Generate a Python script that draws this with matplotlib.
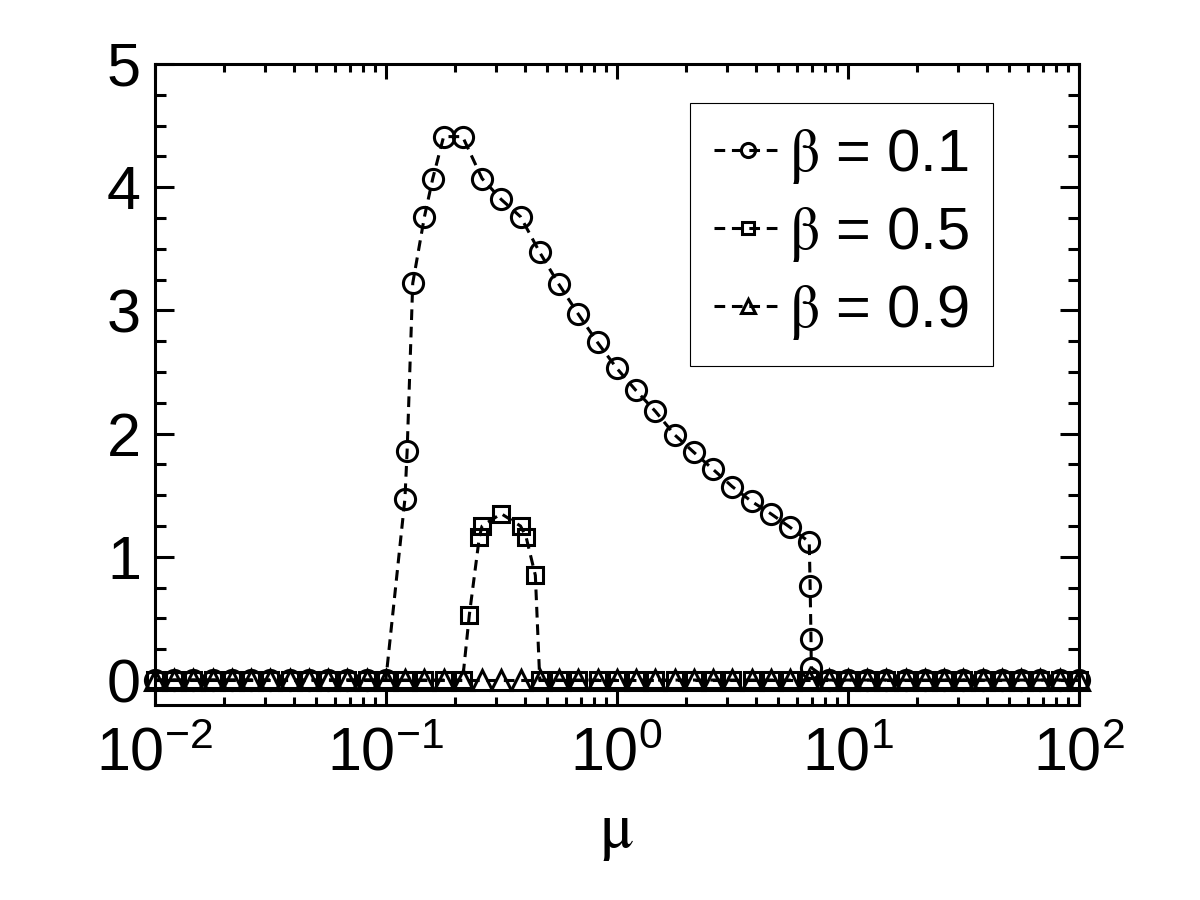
import matplotlib
matplotlib.use('Agg')
import matplotlib.pyplot as plt

plt.rcParams['font.family'] = ['Liberation Sans', 'DejaVu Sans']
plt.rcParams['mathtext.fontset'] = 'stix'
plt.rcParams['axes.unicode_minus'] = False

# grilla de mu (12 puntos por decada, de 1e-2 a 1e2)
mu_grid = [0.01, 0.0121, 0.0147, 0.0178, 0.0215, 0.0261, 0.0316, 0.0383, 0.0464, 0.0562, 0.0681, 0.0825,
           0.1, 0.121, 0.147, 0.178, 0.215, 0.261, 0.316, 0.383, 0.464, 0.562, 0.681, 0.825,
           1.0, 1.21, 1.47, 1.78, 2.15, 2.61, 3.16, 3.83, 4.64, 5.62, 6.81, 8.25,
           10.0, 12.1, 14.7, 17.8, 21.5, 26.1, 31.6, 38.3, 46.4, 56.2, 68.1, 82.5, 100.0]

# beta = 0.1
mu_b01_mid = [0.121, 0.1237, 0.1308, 0.147, 0.1597, 0.178, 0.215, 0.261, 0.316, 0.383, 0.464, 0.562,
              0.681, 0.825, 1.0, 1.21, 1.47, 1.78, 2.15, 2.61, 3.16, 3.83, 4.64, 5.62, 6.81,
              6.87, 6.93, 6.95]
val_b01_mid = [1.47, 1.86, 3.22, 3.76, 4.07, 4.41, 4.41, 4.07, 3.90, 3.76, 3.47, 3.21,
               2.97, 2.74, 2.53, 2.35, 2.18, 1.99, 1.85, 1.71, 1.57, 1.45, 1.35, 1.24, 1.12,
               0.76, 0.33, 0.10]
mu_b01 = mu_grid[:13] + mu_b01_mid + mu_grid[35:]
val_b01 = [0] * 13 + val_b01_mid + [0] * len(mu_grid[35:])

# beta = 0.5
mu_b05_mid = [0.230, 0.2541, 0.261, 0.316, 0.383, 0.405, 0.444]
val_b05_mid = [0.53, 1.16, 1.25, 1.35, 1.25, 1.16, 0.85]
mu_b05 = mu_grid[:17] + mu_b05_mid + mu_grid[20:]
val_b05 = [0] * 17 + val_b05_mid + [0] * len(mu_grid[20:])

# beta = 0.9
mu_b09 = mu_grid
val_b09 = [0] * len(mu_grid)

fig = plt.figure(figsize=(12, 9), dpi=100)
ax = fig.add_axes([0.129, 0.217, 0.77, 0.712])

estilo = dict(color='black', linestyle=(0, (3.5, 2.2)), linewidth=2.2, markerfacecolor='none',
              markeredgewidth=2.2, clip_on=False)
ax.plot(mu_b01, val_b01, marker='o', markersize=14.5, label=r'$\mathrm{\beta}$ = 0.1', **estilo)
ax.plot(mu_b05, val_b05, marker='s', markersize=12, label=r'$\mathrm{\beta}$ = 0.5', **estilo)
ax.plot(mu_b09, val_b09, marker='^', markersize=14, label=r'$\mathrm{\beta}$ = 0.9', **estilo)

ax.set_xscale('log')
ax.set_xlim(0.01, 100)
ax.set_ylim(-0.2, 5)
ax.set_yticks([0, 1, 2, 3, 4, 5])
ax.set_yticks([i * 0.25 for i in range(0, 20)], minor=True)

for s in ax.spines.values():
    s.set_linewidth(2.2)

ax.tick_params(which='both', direction='in', top=True, right=True, labelsize=44, width=2.2)
ax.tick_params(axis='x', which='major', length=11, pad=16)
ax.tick_params(axis='x', which='minor', length=6)
ax.tick_params(axis='y', which='major', length=14, pad=10)
ax.tick_params(axis='y', which='minor', length=8)

ax.set_xlabel(r'$\mathrm{\mu}$', fontsize=46, labelpad=14)

leg = ax.legend(loc='upper right', bbox_to_anchor=(0.907, 0.939), fontsize=43,
                fancybox=False, framealpha=1, edgecolor='black', handlelength=1.15,
                handletextpad=0.1, borderpad=0.4, labelspacing=0.32, markerscale=0.7,
                borderaxespad=0)
leg.get_frame().set_linewidth(0.8)

plt.savefig('out.png', dpi=100)
